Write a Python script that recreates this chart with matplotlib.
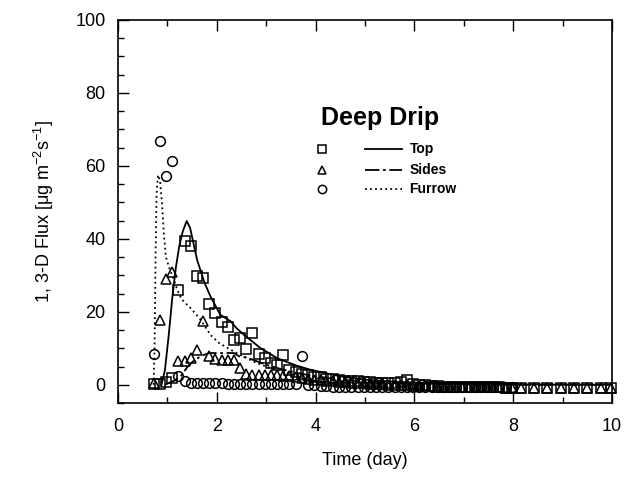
import numpy as np
import matplotlib
matplotlib.use("Agg")
import matplotlib.pyplot as plt
from matplotlib.ticker import MultipleLocator

plt.rcParams['font.family'] = ['Liberation Sans', 'DejaVu Sans']

# ---------------- data ----------------
time_obs = [0.72, 0.85, 0.97, 1.10, 1.22, 1.35, 1.47, 1.60, 1.72, 1.85,
            1.97, 2.10, 2.22, 2.35, 2.47, 2.60, 2.72, 2.85, 2.97, 3.10,
            3.22, 3.35, 3.47, 3.60, 3.72, 3.85, 3.97, 4.10, 4.22, 4.35,
            4.47, 4.60, 4.72, 4.85, 4.97, 5.10, 5.22, 5.35, 5.47, 5.60,
            5.72, 5.85, 5.97, 6.10, 6.22, 6.35, 6.47, 6.60, 6.72, 6.85,
            6.97, 7.10, 7.22, 7.35, 7.47, 7.60, 7.72, 7.85, 7.97, 8.15,
            8.42, 8.69, 8.96, 9.23, 9.50, 9.77, 9.98]

top_obs = [0.3, 0.3, 0.8, 1.8, 26.1, 39.4, 38.0, 29.9, 29.3, 22.2,
           19.7, 17.1, 15.7, 12.4, 12.8, 9.8, 14.2, 8.4, 7.3, 6.0,
           5.5, 8.2, 4.1, 3.5, 3.0, 2.6, 2.2, 2.0, 1.7, 1.5,
           1.3, 1.1, 1.0, 0.9, 0.8, 0.7, 0.6, 0.5, 0.5, 0.6,
           0.8, 1.2, 0.3, 0.0, -0.2, -0.3, -0.4, -0.5, -0.5, -0.6,
           -0.6, -0.6, -0.6, -0.7, -0.7, -0.7, -0.7, -0.8, -0.8, -0.9,
           -0.9, -0.9, -0.9, -0.9, -0.9, -0.9, -0.9]

sides_obs = [0.5, 17.7, 29.0, 30.8, 6.4, 6.4, 7.3, 9.6, 17.4, 8.0,
             7.0, 6.8, 6.8, 6.8, 4.6, 3.0, 2.8, 2.8, 2.7, 2.7,
             2.6, 2.5, 2.3, 2.0, 1.8, 1.6, 1.4, 1.2, 1.0, 0.9,
             0.8, 0.7, 0.6, 0.5, 0.4, 0.3, 0.2, 0.1, 0.0, -0.1,
             -0.2, -0.2, -0.3, -0.3, -0.4, -0.4, -0.5, -0.5, -0.5, -0.6,
             -0.6, -0.6, -0.6, -0.7, -0.7, -0.7, -0.7, -0.8, -0.8, -0.9,
             -0.9, -0.9, -0.9, -0.9, -0.9, -0.9, -0.9]

furrow_obs = [8.3, 66.8, 57.1, 61.3, 2.3, 0.9, 0.5, 0.5, 0.5, 0.4,
              0.4, 0.4, 0.3, 0.3, 0.3, 0.3, 0.3, 0.3, 0.3, 0.3,
              0.3, 0.3, 0.2, 0.2, 8.0, 0.0, -0.2, -0.3, -0.4, -0.5,
              -0.5, -0.5, -0.5, -0.5, -0.5, -0.5, -0.5, -0.5, -0.5, -0.5,
              -0.5, -0.5, -0.5, -0.5, -0.5, -0.5, -0.5, -0.6, -0.6, -0.6,
              -0.6, -0.6, -0.6, -0.6, -0.6, -0.6, -0.6, -0.6, -0.6, None,
              None, None, None, None, None, None, None]

top_model_t = [0.88, 0.95, 1.03, 1.10, 1.17, 1.24, 1.31, 1.39, 1.46, 1.60,
               1.75, 1.87, 2.07, 2.28, 2.40, 2.55, 2.88, 3.22, 3.60, 3.90,
               4.50, 5.00, 5.50, 6.00, 7.00, 8.00, 10.0]
top_model = [0.0, 4.0, 14.0, 24.0, 32.0, 38.0, 42.0, 44.9, 43.0, 34.3,
             28.0, 24.3, 19.2, 17.4, 15.5, 13.7, 10.1, 7.3, 5.3, 4.1,
             2.3, 1.4, 0.9, 0.6, 0.3, 0.1, 0.0]

sides_model_t = [0.95, 1.15, 1.27, 1.40, 1.55, 1.70, 1.85, 2.10, 2.35, 2.45,
                 2.60, 2.80, 3.00, 3.30, 3.60, 4.00, 4.50, 5.00, 6.00, 7.00,
                 8.00, 10.0]
sides_model = [0.0, 1.2, 2.3, 4.8, 6.8, 8.0, 8.7, 8.7, 8.7, 7.8,
               7.5, 6.5, 5.5, 4.3, 3.3, 2.3, 1.4, 0.8, 0.3, 0.1,
               0.0, 0.0]

furrow_model_t = [0.72, 0.74, 0.76, 0.78, 0.81, 0.85, 0.89, 0.93, 0.97, 1.05,
                  1.10, 1.20, 1.29, 1.47, 1.67, 1.87, 2.04, 2.28, 2.50, 2.80,
                  3.10, 3.50, 4.00, 4.50, 5.00, 6.00, 7.00, 8.00, 10.0]
furrow_model = [0.0, 10.0, 35.0, 52.0, 57.5, 56.0, 50.0, 41.0, 35.0, 31.5,
                30.0, 26.0, 23.4, 21.0, 17.9, 13.7, 11.5, 9.6, 8.0, 6.0,
                4.5, 3.0, 1.8, 1.0, 0.6, 0.2, 0.1, 0.0, 0.0]

legend_labels = ['Top', 'Sides', 'Furrow']

# ---------------- figure ----------------
fig = plt.figure(figsize=(6.43, 4.78), dpi=100)
ax = fig.add_axes([118/643, 75/478, 494/643, 383/478])

to_f = lambda lst: np.array([np.nan if v is None else v for v in lst], dtype=float)

lw = 1.3
sides_ls = (0, (8, 2, 1.5, 2))
furrow_ls = (0, (1, 1.8))
ax.plot(top_model_t, top_model, color='black', lw=lw, ls='-')
ax.plot(sides_model_t, sides_model, color='black', lw=lw, ls=sides_ls)
ax.plot(furrow_model_t, furrow_model, color='black', lw=lw, ls=furrow_ls)

mk = dict(ls='none', mfc='none', mec='black', mew=1.1, clip_on=False)
ax.plot(time_obs, top_obs, marker='s', ms=6.5, **mk)
ax.plot(time_obs, sides_obs, marker='^', ms=7, **mk)
ax.plot(time_obs, to_f(furrow_obs), marker='o', ms=7, **mk)

ax.set_xlim(0, 10)
ax.set_ylim(-5, 100)
ax.xaxis.set_major_locator(MultipleLocator(2))
ax.xaxis.set_minor_locator(MultipleLocator(1))
ax.yaxis.set_major_locator(MultipleLocator(20))
ax.yaxis.set_minor_locator(MultipleLocator(5))
ax.tick_params(which='both', direction='in', top=True, right=False, width=1.0)
ax.tick_params(which='major', length=8, labelsize=13)
ax.tick_params(which='minor', length=4)
ax.tick_params(axis='x', which='major', pad=11)
ax.tick_params(axis='y', which='major', pad=9)
for s in ax.spines.values():
    s.set_linewidth(1.2)

ax.set_xlabel('Time (day)', fontsize=13, labelpad=12)
ax.set_ylabel(r'1, 3-D Flux [$\mathregular{\mu}$g m$^{\mathregular{-2}}$s$^{\mathregular{-1}}$]',
              fontsize=13, labelpad=14)

ax.text(5.3, 73, 'Deep Drip', fontsize=18, fontweight='bold', ha='center', va='center')

# legend built manually
leg_y = [64.5, 59.0, 53.6]
leg_markers = ['s', '^', 'o']
leg_styles = ['-', sides_ls, furrow_ls]
for yy, m, st, lab in zip(leg_y, leg_markers, leg_styles, legend_labels):
    ax.plot([4.13], [yy], marker=m, ms=6, mfc='none', mec='black', mew=1.1, ls='none')
    ax.plot([5.0, 5.75], [yy, yy], color='black', lw=lw, ls=st)
    ax.text(5.9, yy, lab, fontsize=10, fontweight='bold', va='center', ha='left')

fig.savefig('out.png', dpi=100)
